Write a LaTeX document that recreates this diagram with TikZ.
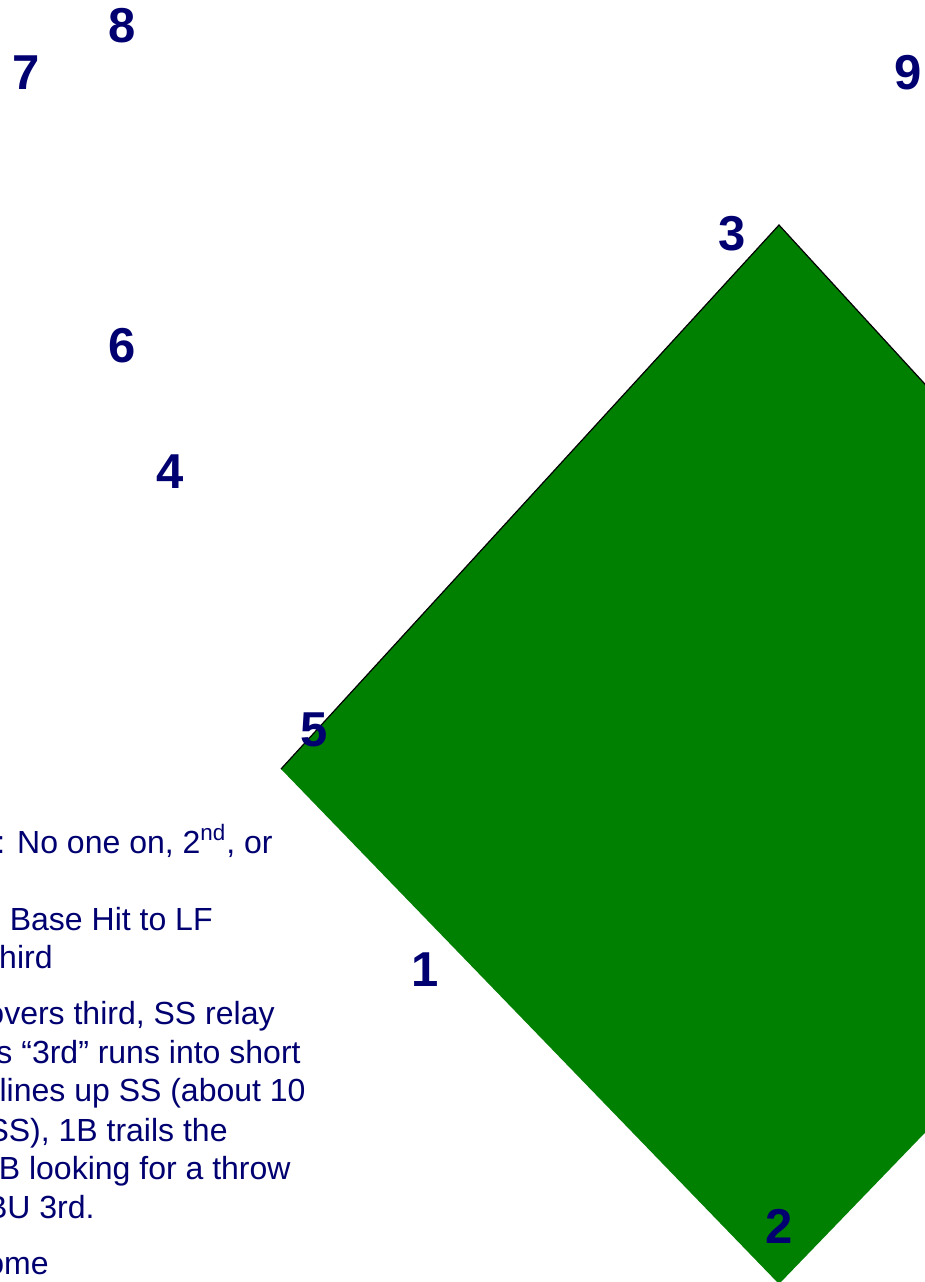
\documentclass[tikz,border=0pt]{standalone}
\usepackage{fontspec}
\setmainfont{Liberation Sans}
\usepackage{tikz}
\usetikzlibrary{positioning}
\definecolor{fieldgreen}{RGB}{0,128,0}
\definecolor{posnavy}{RGB}{0,0,112}
\tikzset{
  posnum/.style={font=\fontsize{24.5}{29}\selectfont\bfseries, text=posnavy,
                 inner sep=0pt},
  notetext/.style={font=\fontsize{16}{19.2}\selectfont, text=posnavy,
                   inner sep=0pt, anchor=base east},
  baseline/.style={black, line width=0.6pt},
}
\begin{document}
\begin{tikzpicture}[x=0.5pt,y=-0.5pt]
  \useasboundingbox (0,0) rectangle (925,1282);
  \clip (0,0) rectangle (925,1282);
  % Infield
  \fill[fieldgreen] (779,225) -- (1277,768) -- (779,1284) -- (281,769) -- cycle;
  \draw[baseline] (281,769) -- (779,225) -- (1277,768);
  % Fielders
  \node[posnum] (pos8) at (122,26) {8};
  \node[posnum] (pos7) at (26,73) {7};
  \node[posnum] (pos9) at (908,73) {9};
  \node[posnum] (pos3) at (732,234) {3};
  \node[posnum] (pos6) at (122,346) {6};
  \node[posnum] (pos4) at (170,472) {4};
  \node[posnum] (pos5) at (314,730) {5};
  \node[posnum] (pos1) at (425,970) {1};
  \node[posnum] (pos2) at (779,1226) {2};
  % Notes
  \node[notetext] (note1) at (273,853) {s: No one on, 2\textsuperscript{nd}, or};
  \node[notetext] (note2) at (213,930) {. Base Hit to LF};
  \node[notetext] (note3) at (53,968) {hird};
  \node[notetext] (note4) at (275,1024) {overs third, SS relay};
  \node[notetext] (note5) at (301,1063) {s “3rd” runs into short};
  \node[notetext] (note6) at (306,1101) {lines up SS (about 10};
  \node[notetext] (note7) at (228,1141) {SS), 1B trails the};
  \node[notetext] (note8) at (291,1179) {B looking for a throw};
  \node[notetext] (note9) at (95,1218) {BU 3rd.};
  \node[notetext] (note10) at (49,1274) {ome};
\end{tikzpicture}
\end{document}
